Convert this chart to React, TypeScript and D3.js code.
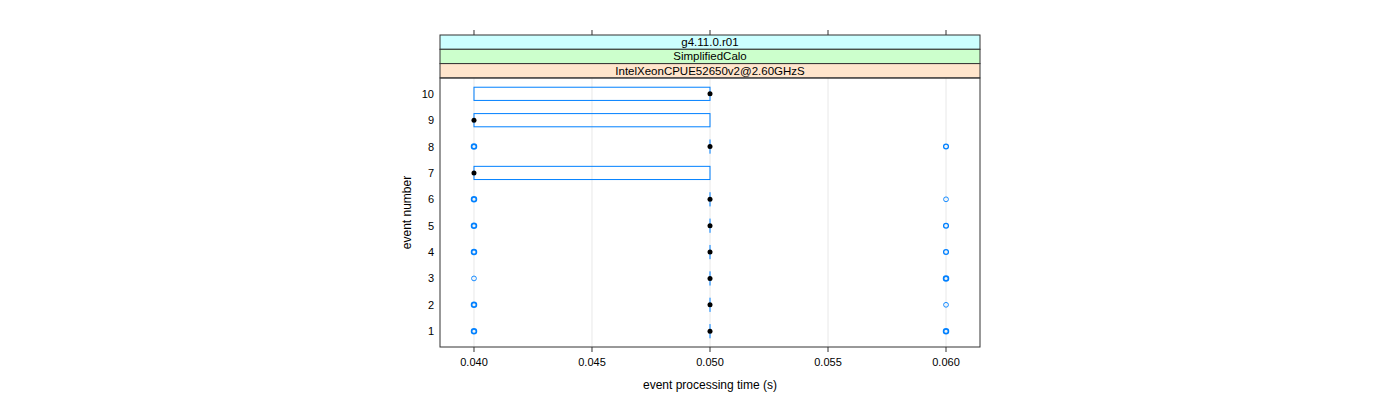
import React from "react";
import * as d3 from "d3";

const events = [1, 2, 3, 4, 5, 6, 7, 8, 9, 10];
const q1 = [0.05, 0.05, 0.05, 0.05, 0.05, 0.05, 0.04, 0.05, 0.04, 0.04];
const medians = [0.05, 0.05, 0.05, 0.05, 0.05, 0.05, 0.04, 0.05, 0.04, 0.05];
const q3 = [0.05, 0.05, 0.05, 0.05, 0.05, 0.05, 0.05, 0.05, 0.05, 0.05];
// outliers: [event, value, multiplicity]
const outliers: [number, number, number][] = [
  [1, 0.04, 3], [1, 0.06, 3],
  [2, 0.04, 3], [2, 0.06, 1],
  [3, 0.04, 1], [3, 0.06, 3],
  [4, 0.04, 3], [4, 0.06, 2],
  [5, 0.04, 3], [5, 0.06, 2],
  [6, 0.04, 3], [6, 0.06, 1],
  [8, 0.04, 3], [8, 0.06, 2],
];
const xTicks = [0.04, 0.045, 0.05, 0.055, 0.06];
const stripLabels = ["g4.11.0.r01", "SimplifiedCalo", "IntelXeonCPUE52650v2@2.60GHzS"];
const stripColors = ["#ccffff", "#ccffcc", "#ffe5cc"];

export default function App() {
  const left = 440, right = 980, top = 78, bottom = 347;
  const x = d3.scaleLinear().domain([0.03856, 0.06144]).range([left, right]);
  const y = d3.scaleLinear().domain([0.4, 10.6]).range([bottom, top]);
  const bh = 13.2;
  const blue = "#0080ff";
  const font = "'Liberation Sans', Arial, sans-serif";
  return (
    <svg width={1400} height={400} style={{ position: "absolute", left: 0, top: 0 }} fontFamily={font}>
      <rect width={1400} height={400} fill="#fff" />
      {xTicks.map((t) => (
        <line key={"g" + t} x1={x(t)} x2={x(t)} y1={top} y2={bottom} stroke="#e8e8e8" strokeWidth={1} />
      ))}
      {stripLabels.map((s, i) => (
        <g key={s}>
          <rect x={left} y={35 + i * 14.3} width={right - left} height={14.3} fill={stripColors[i]} stroke="#333" strokeWidth={1} />
          <text x={(left + right) / 2} y={35 + i * 14.3 + 11} textAnchor="middle" fontSize={11.5} fill="#000">{s}</text>
        </g>
      ))}
      {xTicks.map((t) => (
        <g key={"t" + t}>
          <line x1={x(t)} x2={x(t)} y1={bottom} y2={bottom + 5} stroke="#333" />
          <line x1={x(t)} x2={x(t)} y1={30} y2={35} stroke="#333" />
          <text x={x(t)} y={bottom + 19} textAnchor="middle" fontSize={11}>{d3.format(".3f")(t)}</text>
        </g>
      ))}
      {events.map((e) => (
        <text key={"y" + e} x={434} y={y(e) + 4} textAnchor="end" fontSize={11}>{e}</text>
      ))}
      {events.map((e, i) => (
        <g key={"b" + e}>
          <rect x={x(q1[i])} y={y(e) - bh / 2} width={Math.max(0.01, x(q3[i]) - x(q1[i]))} height={bh} fill="none" stroke={blue} strokeWidth={1} />
        </g>
      ))}
      {outliers.map(([e, v, m], i) => (
        <circle key={"o" + i} cx={x(v)} cy={y(e)} r={2.4} fill="none" stroke={blue} strokeWidth={m === 1 ? 0.9 : m === 2 ? 1.3 : 1.7} />
      ))}
      {events.map((e, i) => (
        <circle key={"m" + e} cx={x(medians[i])} cy={y(e)} r={2.5} fill="#000" />
      ))}
      <rect x={left} y={top} width={right - left} height={bottom - top} fill="none" stroke="#333" strokeWidth={1} />
      <text x={(left + right) / 2} y={389} textAnchor="middle" fontSize={12}>event processing time (s)</text>
      <text transform={`translate(411,${(top + bottom) / 2}) rotate(-90)`} textAnchor="middle" fontSize={12}>event number</text>
    </svg>
  );
}
